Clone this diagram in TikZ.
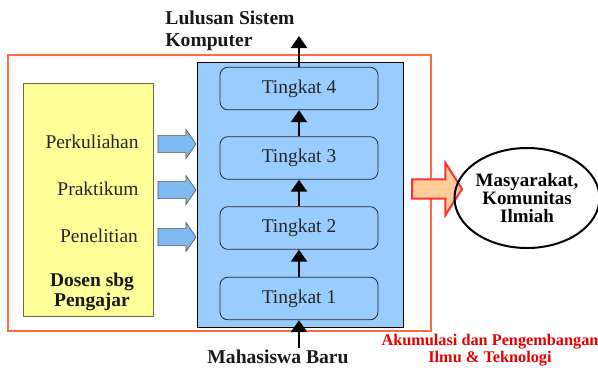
\documentclass[tikz,border=0pt]{standalone}
\usepackage{fontspec}
\setmainfont{Liberation Serif}
\usetikzlibrary{shapes,arrows.meta,positioning}

\definecolor{bingkai}{HTML}{FF6A40}
\definecolor{kuning}{HTML}{FFFF99}
\definecolor{zaitun}{HTML}{6B6B40}
\definecolor{biru}{HTML}{99CCFF}
\definecolor{birupanah}{HTML}{7FBAF2}
\definecolor{jingga}{HTML}{FFCC99}
\definecolor{merah}{HTML}{FF3030}

\tikzset{
  tingkat/.style={draw=black!85,fill=biru,rounded corners=6pt,line width=0.6pt,
    minimum width=118.5pt,minimum height=32pt,inner sep=0pt,
    font=\fontsize{14.6}{16}\selectfont,text=black!85},
  naik/.style={line width=2pt,-{Triangle[width=12pt,length=9pt]}},
  panahbiru/.style={shape=single arrow,draw=black!65,fill=birupanah,line width=0.5pt,
    minimum height=28.5pt,inner xsep=0pt,inner ysep=6.2pt,single arrow head extend=4.5pt,
    single arrow tip angle=111},
  kegiatan/.style={font=\fontsize{14.6}{16}\selectfont,text=black!85},
  tebal/.style={font=\fontsize{14.7}{16.5}\selectfont\bfseries,text=black!90}
}

\begin{document}
\begin{tikzpicture}[x=0.75pt,y=-0.75pt]
\useasboundingbox (0,0) rectangle (598,369);

% bingkai luar dan kotak dosen
\draw[bingkai,line width=2pt] (8,55) rectangle (431,331);
\draw[zaitun,fill=kuning,line width=0.7pt] (23,83) rectangle (153,316);
\draw[black,fill=biru,line width=0.6pt] (197,62) rectangle (403,327);

% tingkat
\node[tingkat] (t1) at (299,298.5) {Tingkat 1};
\node[tingkat] (t2) at (299,228) {Tingkat 2};
\node[tingkat] (t3) at (299,158) {Tingkat 3};
\node[tingkat] (t4) at (299,88.5) {Tingkat 4};
\coordinate (atas) at (299,36);
\coordinate (bawah) at (299,348);
\draw[naik] (t1.north) -- (t2.south);
\draw[naik] (t2.north) -- (t3.south);
\draw[naik] (t3.north) -- (t4.south);
\draw[naik] (t4.north) -- (atas);
\draw[naik] (bawah) -- (t1.south);

% kegiatan dosen
\node[kegiatan] (kuliah) at (92,142) {Perkuliahan};
\node[kegiatan] (praktik) at (98,189) {Praktikum};
\node[kegiatan] (teliti) at (99,236) {Penelitian};
\node[tebal,align=center,font=\fontsize{14.6}{15}\selectfont\bfseries] (dosen) at (92,292) {Dosen sbg\\Pengajar};
\node[panahbiru] (p1) at (174,144) {};
\node[panahbiru] (p2) at (174,190) {};
\node[panahbiru] (p3) at (174,237) {};

% label atas dan bawah
\node[tebal,align=left] (lulusan) at (230,31) {Lulusan Sistem\\Komputer};
\node[tebal] (maba) at (278,357) {Mahasiswa Baru};

% masyarakat
\node[shape=single arrow,draw=merah,fill=jingga,line width=1.5pt,
  minimum height=37.5pt,inner xsep=0pt,inner ysep=6.4pt,single arrow head extend=12.4pt,
  single arrow tip angle=115] (ke) at (434,189) {};
\node[draw=black,ellipse,line width=1.5pt,minimum width=102pt,minimum height=75pt,
  inner sep=0pt,align=center,font=\fontsize{14.2}{13.4}\selectfont\bfseries] (masy) at (527,198)
  {Masyarakat,\\Komunitas\\Ilmiah};
\node[align=center,text=red!90!black,font=\fontsize{12.2}{12.5}\selectfont\bfseries] (ilmu) at (490,350)
  {Akumulasi dan Pengembangan\\Ilmu \& Teknologi};
\end{tikzpicture}
\end{document}
